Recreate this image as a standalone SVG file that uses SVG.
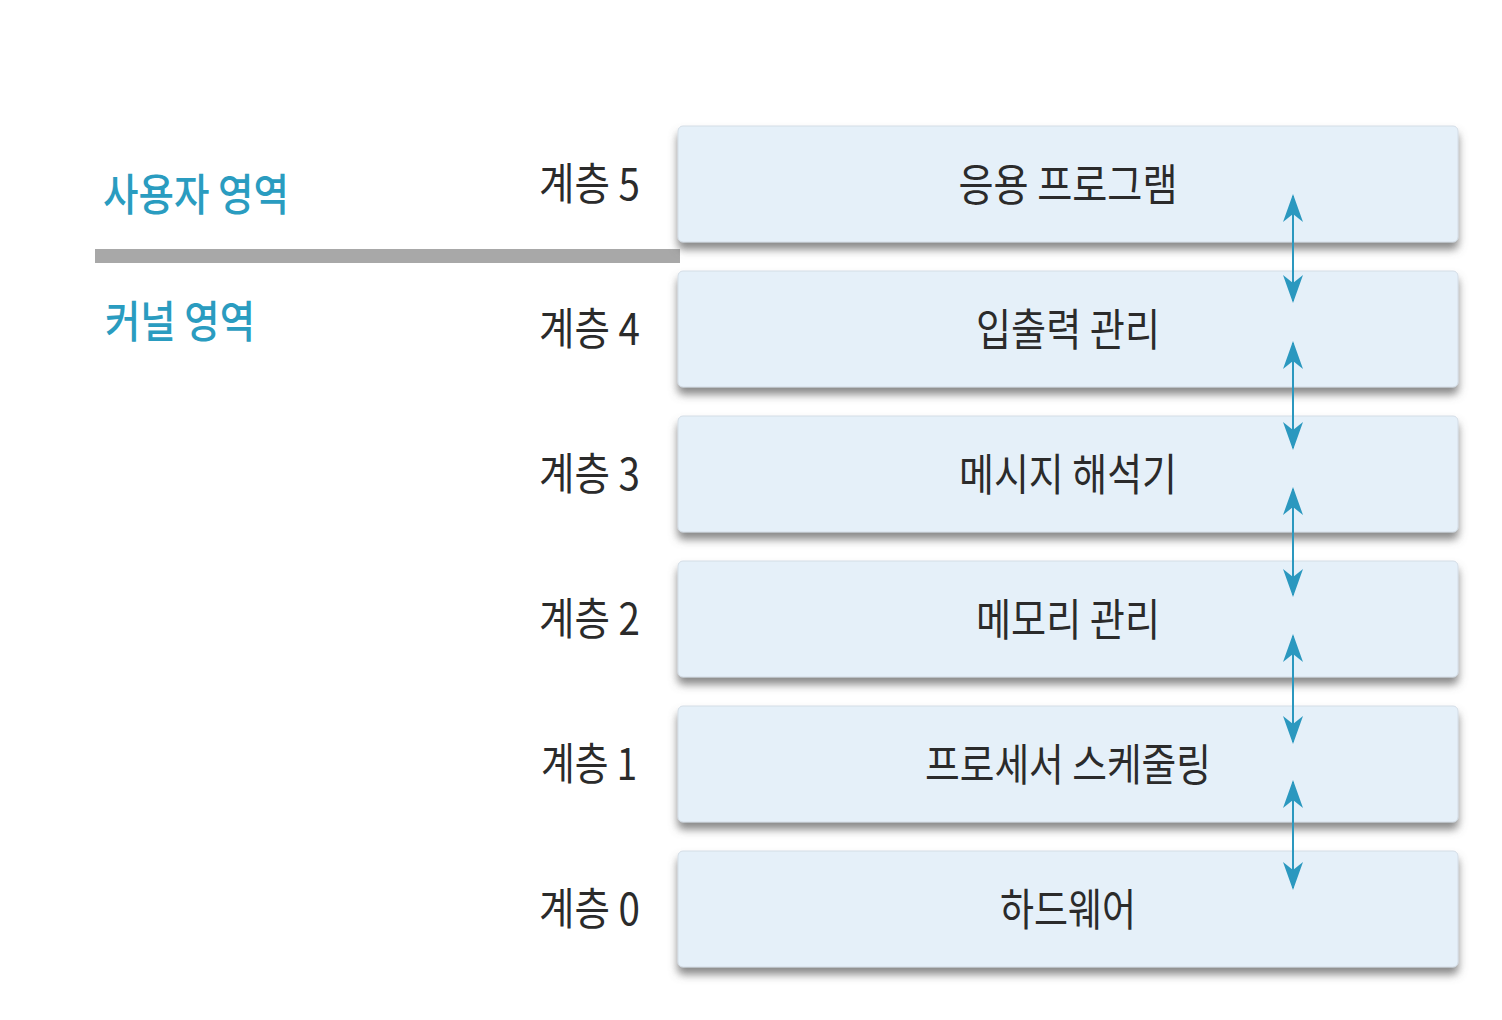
<svg xmlns="http://www.w3.org/2000/svg" width="1502" height="1020" viewBox="0 0 1502 1020">
<defs>
<style>
.box{fill:#e5f0f9;stroke:#d4dde6;stroke-width:1}
.bt{font-family:"Noto Sans CJK KR","Noto Sans",sans-serif;font-size:44px;fill:#2b2b2b;text-anchor:middle}
.lv{font-family:"Noto Sans CJK KR","Noto Sans",sans-serif;font-size:44px;fill:#2b2b2b;text-anchor:end}
.area{font-family:"Noto Sans CJK KR","Noto Sans",sans-serif;font-size:44px;fill:#2a9cc0;font-weight:500}
.arr{stroke:#2b98bf;stroke-width:2;fill:none}
</style>
<filter id="sh" x="-5%" y="-20%" width="110%" height="150%">
<feDropShadow dx="0" dy="7" stdDeviation="4" flood-color="#6a6a6a" flood-opacity="0.8"/>
</filter>
<marker id="ah" viewBox="0 0 28 20" refX="26" refY="10" markerWidth="28" markerHeight="20" markerUnits="userSpaceOnUse" orient="auto-start-reverse">
<path d="M0,0 L28,10 L0,20 L8,10 Z" fill="#2b98bf"/>
</marker>
</defs>
<rect width="1502" height="1020" fill="#ffffff"/>
<g id="divider"><rect x="95" y="249" width="585" height="14" fill="#a8a8a8"/></g>
<g id="area-user"><text class="area" x="103" y="211" textLength="186" lengthAdjust="spacingAndGlyphs">사용자 영역</text></g>
<g id="area-kernel"><text class="area" x="105" y="338" textLength="150" lengthAdjust="spacingAndGlyphs">커널 영역</text></g>

<g id="layer5"><rect class="box" filter="url(#sh)" x="678" y="126" width="780" height="116" rx="5"/><text class="bt" x="1068" y="201" textLength="219" lengthAdjust="spacingAndGlyphs">응용 프로그램</text><text class="lv" x="640" y="200" textLength="101" lengthAdjust="spacingAndGlyphs">계층 5</text></g>
<g id="layer4"><rect class="box" filter="url(#sh)" x="678" y="271" width="780" height="116" rx="5"/><text class="bt" x="1068" y="346" textLength="184" lengthAdjust="spacingAndGlyphs">입출력 관리</text><text class="lv" x="640" y="345" textLength="101" lengthAdjust="spacingAndGlyphs">계층 4</text></g>
<g id="layer3"><rect class="box" filter="url(#sh)" x="678" y="416" width="780" height="116" rx="5"/><text class="bt" x="1068" y="491" textLength="218" lengthAdjust="spacingAndGlyphs">메시지 해석기</text><text class="lv" x="640" y="490" textLength="101" lengthAdjust="spacingAndGlyphs">계층 3</text></g>
<g id="layer2"><rect class="box" filter="url(#sh)" x="678" y="561" width="780" height="116" rx="5"/><text class="bt" x="1068" y="636" textLength="184" lengthAdjust="spacingAndGlyphs">메모리 관리</text><text class="lv" x="640" y="635" textLength="101" lengthAdjust="spacingAndGlyphs">계층 2</text></g>
<g id="layer1"><rect class="box" filter="url(#sh)" x="678" y="706" width="780" height="116" rx="5"/><text class="bt" x="1068" y="781" textLength="286" lengthAdjust="spacingAndGlyphs">프로세서 스케줄링</text><text class="lv" x="637" y="780" textLength="96" lengthAdjust="spacingAndGlyphs">계층 1</text></g>
<g id="layer0"><rect class="box" filter="url(#sh)" x="678" y="851" width="780" height="116" rx="5"/><text class="bt" x="1068" y="926" textLength="136" lengthAdjust="spacingAndGlyphs">하드웨어</text><text class="lv" x="640" y="925" textLength="101" lengthAdjust="spacingAndGlyphs">계층 0</text></g>

<g id="connectors">
<line class="arr" x1="1293" y1="196" x2="1293" y2="301" marker-start="url(#ah)" marker-end="url(#ah)"/>
<line class="arr" x1="1293" y1="343" x2="1293" y2="448" marker-start="url(#ah)" marker-end="url(#ah)"/>
<line class="arr" x1="1293" y1="489" x2="1293" y2="595" marker-start="url(#ah)" marker-end="url(#ah)"/>
<line class="arr" x1="1293" y1="636" x2="1293" y2="742" marker-start="url(#ah)" marker-end="url(#ah)"/>
<line class="arr" x1="1293" y1="782" x2="1293" y2="888" marker-start="url(#ah)" marker-end="url(#ah)"/>
</g>
</svg>
